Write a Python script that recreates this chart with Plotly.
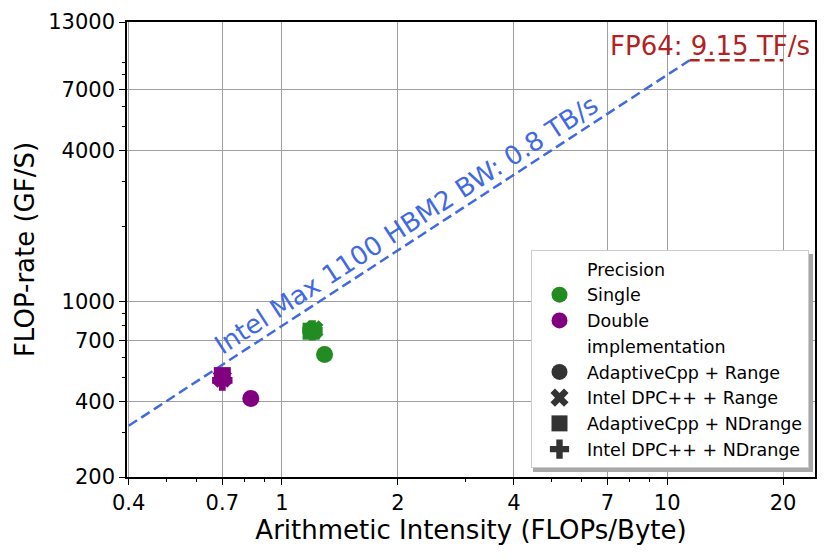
import numpy as np
import plotly.graph_objects as go

# roofline parameters (Intel Max 1100)
bw_tbs = 0.8
peak_tfs = 9.15

# measured points
single_impl = ["AdaptiveCpp + Range", "Intel DPC++ + Range", "AdaptiveCpp + NDrange", "Intel DPC++ + NDrange"]
single_ai = [1.29, 1.21, 1.19, 1.20]
single_perf = [615, 772, 762, 768]
double_impl = ["AdaptiveCpp + Range", "Intel DPC++ + Range", "AdaptiveCpp + NDrange", "Intel DPC++ + NDrange"]
double_ai = [0.83, 0.70, 0.70, 0.70]
double_perf = [411, 495, 507, 485]

x_ticks = [0.4, 0.7, 1, 2, 4, 7, 10, 20]
x_minor = [0.5, 0.6, 0.8, 0.9, 3, 5, 6, 8, 9]
y_ticks = [200, 400, 700, 1000, 4000, 7000, 13000]
y_minor = [300, 500, 600, 800, 900, 2000, 3000, 5000, 6000, 8000, 9000]

symbols = {"AdaptiveCpp + Range": "circle", "Intel DPC++ + Range": "x",
           "AdaptiveCpp + NDrange": "square", "Intel DPC++ + NDrange": "cross"}
green = "#228B22"
purple = "#800080"
blue = "#4169E1"
red = "#B22222"

bw = bw_tbs * 1000
peak = peak_tfs * 1000
ridge = peak / bw

fig = go.Figure()

# memory roof
fig.add_trace(go.Scatter(x=[0.4, ridge], y=[0.4 * bw, peak], mode="lines",
                         line=dict(color=blue, width=2.5, dash="10px,5px"),
                         showlegend=False, hoverinfo="skip"))
# compute roof
fig.add_trace(go.Scatter(x=[ridge, 20], y=[peak, peak], mode="lines",
                         line=dict(color=red, width=2.5, dash="10px,5px"),
                         showlegend=False, hoverinfo="skip"))

for ai, perf, impl, col in [(single_ai, single_perf, single_impl, green),
                            (double_ai, double_perf, double_impl, purple)]:
    for a, p, im in zip(ai, perf, impl):
        sym = symbols[im]
        fig.add_trace(go.Scatter(x=[a], y=[p], mode="markers",
                                 marker=dict(color=col, size=17, symbol=sym, line=dict(width=0)),
                                 showlegend=False, name=im))

# legend entries
def legend_entry(name, color, symbol, visible=True):
    fig.add_trace(go.Scatter(x=[None], y=[None], mode="markers", name=name,
                             marker=dict(color=color if visible else "rgba(0,0,0,0)",
                                         size=16, symbol=symbol)))

legend_entry("Precision", "white", "circle", visible=False)
legend_entry("Single", green, "circle")
legend_entry("Double", purple, "circle")
legend_entry("implementation", "white", "circle", visible=False)
for im in single_impl:
    legend_entry(im, "#333333", symbols[im])

fig.add_annotation(x=np.log10(2.1), y=np.log10(2.1 * bw), text="Intel Max 1100 HBM2 BW: 0.8 TB/s",
                   showarrow=False, textangle=-33, yshift=20,
                   font=dict(color=blue, size=26))
fig.add_annotation(x=np.log10(23.8), y=np.log10(peak), text="FP64: 9.15 TF/s",
                   showarrow=False, xanchor="right", yshift=14,
                   font=dict(color=red, size=26))

# page body keeps an 8px margin, so the figure is 8px smaller and margins shifted
W, H = 822, 552
ml, mr, mt, mb = 119, 15, 14, 83
pw, ph = W - ml - mr, H - mt - mb

# legend shadow (pixel box of the reference legend, shifted 4px)
lg_l, lg_r, lg_t, lg_b = 521, 801, 242, 460
fig.add_shape(type="rect", xref="paper", yref="paper",
              x0=(lg_l + 4 - ml) / pw, x1=(lg_r + 4 - ml) / pw,
              y0=(mt + ph - lg_b - 4) / ph, y1=(mt + ph - lg_t - 4) / ph,
              fillcolor="#a8a8a8", line=dict(width=0), layer="above")

fig.update_xaxes(type="log", range=[np.log10(0.396), np.log10(24.2)],
                 tickvals=x_ticks, ticktext=[str(v) for v in x_ticks],
                 ticks="outside", ticklen=6, tickwidth=1.2, tickcolor="black",
                 minor=dict(tickvals=x_minor, ticks="outside", ticklen=3.5, tickcolor="black", showgrid=False),
                 showgrid=True, gridcolor="#a0a0a0", gridwidth=1,
                 showline=True, mirror=True, linecolor="black", linewidth=1.5,
                 zeroline=False, automargin=False, tickfont=dict(size=21, color="black"),
                 title=dict(text="Arithmetic Intensity (FLOPs/Byte)", font=dict(size=26, color="black"), standoff=6))
fig.update_yaxes(type="log", range=[np.log10(200), np.log10(13000)],
                 tickvals=y_ticks, ticktext=[str(v) for v in y_ticks],
                 ticks="outside", ticklen=6, tickwidth=1.2, tickcolor="black",
                 minor=dict(tickvals=y_minor, ticks="outside", ticklen=3.5, tickcolor="black", showgrid=False),
                 showgrid=True, gridcolor="#a0a0a0", gridwidth=1,
                 showline=True, mirror=True, linecolor="black", linewidth=1.5,
                 zeroline=False, automargin=False, tickfont=dict(size=21, color="black"),
                 title=dict(text="FLOP-rate (GF/S)", font=dict(size=26, color="black"), standoff=6))

fig.update_layout(
    width=W, height=H,
    margin=dict(l=ml, r=mr, t=mt, b=mb),
    plot_bgcolor="white", paper_bgcolor="white",
    font=dict(family="DejaVu Sans", color="black"),
    legend=dict(x=(lg_r - ml) / pw, y=(mt + ph - lg_b) / ph, xanchor="right", yanchor="bottom",
                bgcolor="white", bordercolor="#cccccc", borderwidth=1,
                font=dict(size=17.5), tracegroupgap=0, itemwidth=45),
)

fig.write_html("out.html")
